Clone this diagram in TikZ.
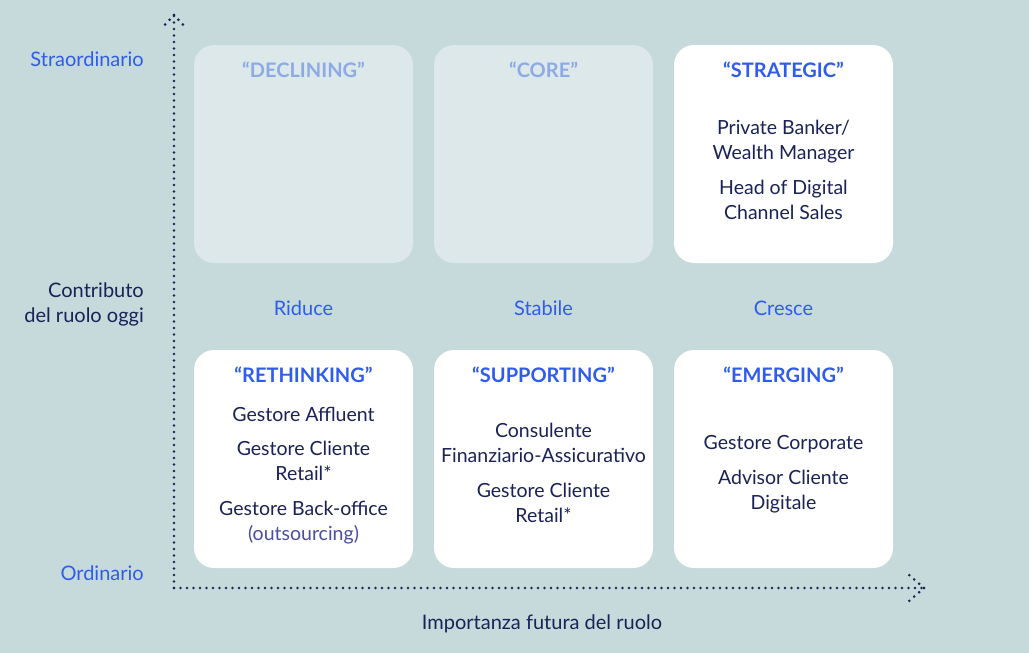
\documentclass[tikz,border=0pt]{standalone}
\usepackage{fontspec}
\setmainfont{Lato}
\definecolor{bg}{HTML}{C6DADC}
\definecolor{fadebox}{HTML}{DCE8EA}
\definecolor{fadetitle}{HTML}{8CABE6}
\definecolor{brightblue}{HTML}{2F5CEB}
\definecolor{navy}{HTML}{1B2256}
\definecolor{softnavy}{HTML}{4A4FA0}
\begin{document}
\begin{tikzpicture}[x=1pt,y=-1pt,
  cell/.style={rounded corners=20pt,minimum width=219pt,minimum height=218pt,inner sep=0pt},
  whitecell/.style={cell,fill=white},
  fadecell/.style={cell,fill=fadebox},
  body/.style={font=\fontsize{19.5}{25}\selectfont,text=navy,align=center,inner sep=0pt},
  ttl/.style={font=\fontsize{20}{24}\selectfont\bfseries,align=center,inner sep=0pt},
  lbl/.style={font=\fontsize{20}{25}\selectfont,inner sep=0pt},
  dotline/.style={draw=navy,line width=2.9pt,line cap=round,dash pattern=on 0pt off 6.5pt}]
\fill[bg] (0,0) rectangle (1029,653);
\useasboundingbox (0,0) rectangle (1029,653);
% cells
\node[fadecell]  (c11) at (303.5,154) {};
\node[fadecell]  (c12) at (543.5,154) {};
\node[whitecell] (c13) at (783.5,154) {};
\node[whitecell] (c21) at (303.5,459) {};
\node[whitecell] (c22) at (543.5,459) {};
\node[whitecell] (c23) at (783.5,459) {};
% titles
\node[ttl,text=fadetitle]  (t11) at (303.5,70) {“DECLINING”};
\node[ttl,text=fadetitle]  (t12) at (543.5,70) {“CORE”};
\node[ttl,text=brightblue] (t13) at (783.5,70) {“STRATEGIC”};
\node[ttl,text=brightblue] (t21) at (303.5,375) {“RETHINKING”};
\node[ttl,text=brightblue] (t22) at (543.5,375) {“SUPPORTING”};
\node[ttl,text=brightblue] (t23) at (783.5,375) {“EMERGING”};
% contents
\node[body] (s1) at (783.5,142) {Private Banker/\\Wealth Manager};
\node[body] (s2) at (783.5,200) {Head of Digital\\Channel Sales};
\node[body] (r1) at (303.5,414) {Gestore Affluent};
\node[body] (r2) at (303.5,461) {Gestore Cliente\\Retail*};
\node[body] (r3) at (303.5,508.5) {Gestore Back-office};
\node[body,text=softnavy] (r4) at (303.5,534.5) {(outsourcing)};
\node[body] (p1) at (543.5,443) {Consulente\\Finanziario-Assicurativo};
\node[body] (p2) at (543.5,503) {Gestore Cliente\\Retail*};
\node[body] (e1) at (783.5,444.5) {Gestore Corporate};
\node[body] (e2) at (783.5,491.5) {Advisor Cliente\\Digitale};
% column labels
\node[lbl,text=brightblue] (l1) at (303.5,308) {Riduce};
\node[lbl,text=brightblue] (l2) at (543.5,308) {Stabile};
\node[lbl,text=brightblue] (l3) at (783.5,308) {Cresce};
% axis labels
\node[lbl,text=brightblue,anchor=east] (ya) at (144,59) {Straordinario};
\node[lbl,text=brightblue,anchor=east] (yb) at (144,573) {Ordinario};
\node[lbl,text=navy,anchor=east,align=right] (yc) at (144,304) {Contributo\\del ruolo oggi};
\node[lbl,text=navy] (xa) at (542,623.5) {Importanza futura del ruolo};
% axes
\coordinate (o) at (174,588);
\coordinate (ytip) at (174,15);
\coordinate (xtip) at (924,588);
\coordinate (yl) at (161,29);
\coordinate (yr) at (187,29);
\coordinate (xu) at (908,574);
\coordinate (xd) at (908,602);
\draw[dotline] (o) -- (ytip);
\draw[dotline] (o) -- (xtip);
\draw[dotline] (ytip) -- (yl);
\draw[dotline] (ytip) -- (yr);
\draw[dotline] (xtip) -- (xu);
\draw[dotline] (xtip) -- (xd);
\end{tikzpicture}
\end{document}
